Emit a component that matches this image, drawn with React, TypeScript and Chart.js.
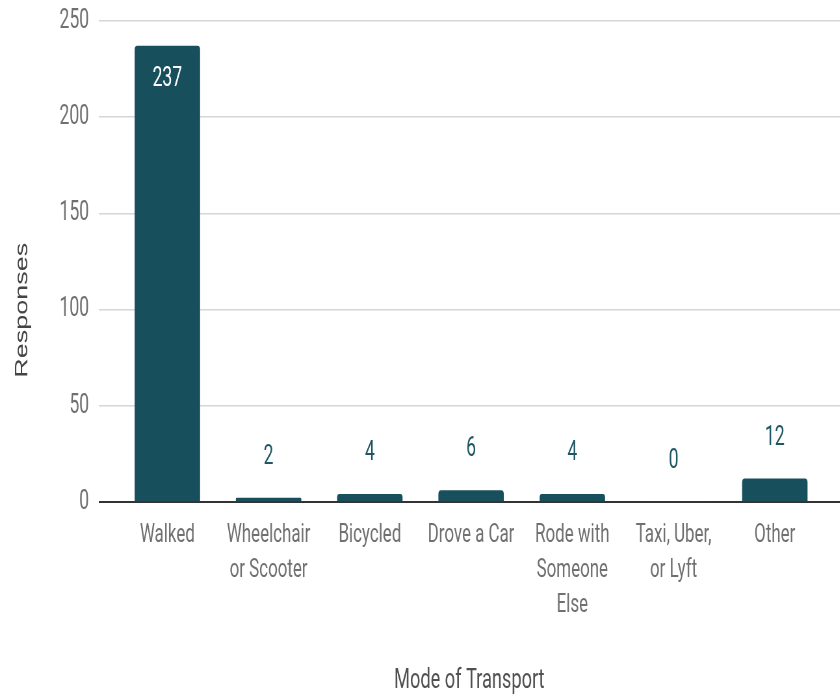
import { useEffect, useRef } from "react";
import { Chart, registerables } from "chart.js";

Chart.register(...registerables);

// ---- data ----
const categories: string[][] = [
  ["Walked"],
  ["Wheelchair", "or Scooter"],
  ["Bicycled"],
  ["Drove a Car"],
  ["Rode with", "Someone", "Else"],
  ["Taxi, Uber,", "or Lyft"],
  ["Other"],
];
const responses: number[] = [237, 2, 4, 6, 4, 0, 12];
const yTickValues: number[] = [0, 50, 100, 150, 200, 250];
const xTitle = "Mode of Transport";
const yTitle = "Responses";

// ---- layout ----
const SX = 0.65; // horizontal squeeze of the picture
const W = Math.round(840 / SX);
const H = 695;
const BAR = "#174f5c";
const LABEL_OUT = "#1e5664";

const valueLabels = {
  id: "valueLabels",
  afterDatasetsDraw(chart: any) {
    const ctx = chart.ctx;
    const meta = chart.getDatasetMeta(0);
    ctx.save();
    ctx.font = "27px Roboto";
    ctx.textAlign = "center";
    ctx.textBaseline = "middle";
    meta.data.forEach((el: any, i: number) => {
      const v = responses[i];
      const { x, y, base } = el.getProps(["x", "y", "base"], true);
      if (base - y > 60) {
        ctx.fillStyle = "#ffffff";
        ctx.fillText(String(v), x, y + 33);
      } else {
        ctx.fillStyle = LABEL_OUT;
        ctx.fillText(String(v), x, y - 41);
      }
    });
    ctx.restore();
  },
};

export default function App() {
  const ref = useRef<HTMLCanvasElement | null>(null);

  useEffect(() => {
    if (!ref.current) return;
    const chart = new Chart(ref.current, {
      type: "bar",
      data: {
        datasets: [
          {
            data: responses.map((v, i) => ({ x: i, y: v })),
            backgroundColor: BAR,
            borderRadius: { topLeft: 4, topRight: 4, bottomLeft: 0, bottomRight: 0 },
            borderSkipped: "bottom",
            barThickness: 100,
          },
        ],
      },
      options: {
        animation: false,
        responsive: false,
        devicePixelRatio: 1,
        layout: { padding: { top: 21, right: 0, bottom: 0, left: 0 } },
        plugins: { legend: { display: false }, tooltip: { enabled: false } },
        scales: {
          x: {
            type: "linear",
            offset: false,
            min: -0.677,
            max: 6.642,
            grid: { display: false, drawTicks: false, offset: false },
            border: { display: false },
            afterBuildTicks: (scale: any) => {
              scale.ticks = categories.map((_, i) => ({ value: i }));
            },
            afterFit: (scale: any) => {
              scale.height = 193;
              scale.paddingLeft = 0;
              scale.paddingRight = 0;
            },
            ticks: {
              autoSkip: false,
              maxRotation: 0,
              minRotation: 0,
              padding: 16,
              color: "#707070",
              font: { family: "Roboto", size: 26, lineHeight: 1.35 },
              callback: (value: any) => {
                const i = Math.round(Number(value));
                return categories[i] ?? "";
              },
            },
            title: {
              display: true,
              text: xTitle,
              color: "#505050",
              font: { family: "Roboto", size: 28, lineHeight: 1.0 },
              padding: { top: 40, bottom: 0 },
            },
          },
          y: {
            min: 0,
            max: 250,
            afterBuildTicks: (scale: any) => {
              scale.ticks = yTickValues.map((v) => ({ value: v }));
            },
            afterFit: (scale: any) => {
              scale.width = 152;
              scale.paddingTop = 0;
              scale.paddingBottom = 0;
            },
            grid: {
              drawTicks: false,
              color: (c: any) => (c.tick && c.tick.value === 0 ? "#333333" : "#d6d6d6"),
              lineWidth: (c: any) => (c.tick && c.tick.value === 0 ? 2 : 1.5),
            },
            border: { display: false },
            ticks: {
              padding: 15,
              color: "#707070",
              font: { family: "Roboto", size: 27 },
            },
            title: {
              display: true,
              text: yTitle + " ".repeat(13),
              color: "#444444",
              font: { family: "'Liberation Sans', Arial, sans-serif", size: 27, lineHeight: 1.2 },
              padding: { top: 18, bottom: 0 },
            },
          },
        },
      },
      plugins: [valueLabels],
    } as any);
    return () => chart.destroy();
  }, []);

  return (
    <div
      style={{
        position: "absolute",
        left: 0,
        top: 0,
        width: 840,
        height: H,
        overflow: "hidden",
        background: "#ffffff",
      }}
    >
      <div
        style={{
          width: W,
          height: H,
          transform: `scaleX(${SX})`,
          transformOrigin: "0 0",
        }}
      >
        <canvas ref={ref} width={W} height={H} style={{ display: "block" }} />
      </div>
    </div>
  );
}
